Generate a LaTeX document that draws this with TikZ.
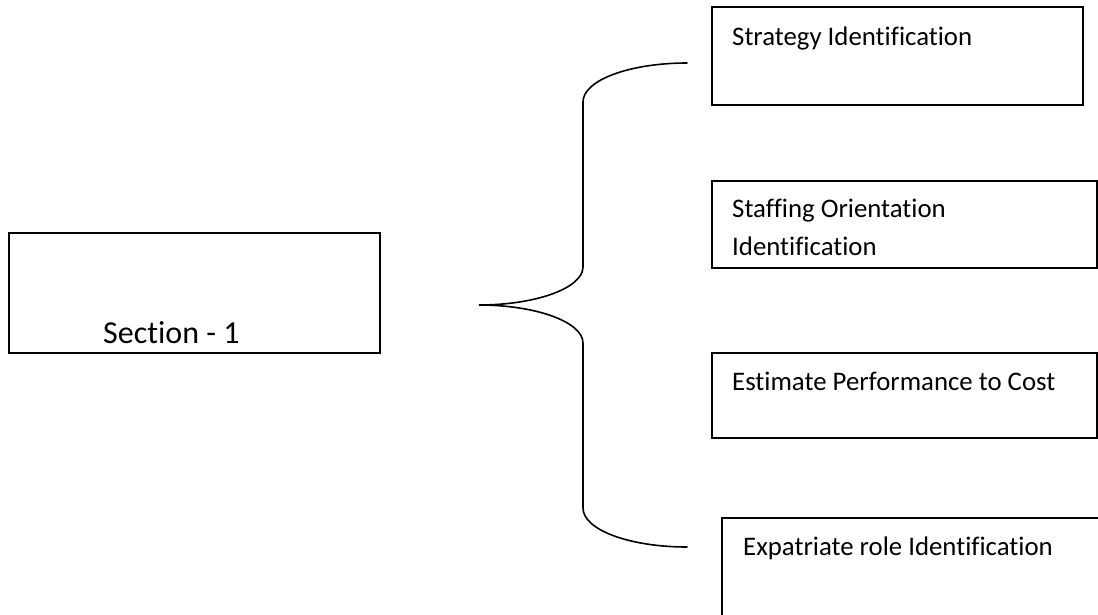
\documentclass[tikz,border=0pt]{standalone}
\usepackage{fontspec}
\setmainfont{Carlito}[Ligatures = NoCommon]
\begin{document}
\begin{tikzpicture}[
	x = 1pt, y = -1pt,
	box/.style = {draw, line width = 1.5pt, rectangle, inner sep = 0pt},
	txt/.style = {anchor = base west, inner sep = 0pt, align = left,
		font = \fontsize{26.8}{38}\selectfont},
	brace/.style = {line width = 1.6pt, line cap = round}]

	\useasboundingbox (0,0) rectangle (1098,614);
	\clip (0,0) rectangle (1098,614);

	% left box
	\node[box, minimum width = 371, minimum height = 120] (sec) at (194.5,293) {};
	\node[txt, font = \fontsize{32}{38}\selectfont] (secText) at (103,343) {Section - 1};

	% right boxes
	\node[box, minimum width = 371, minimum height = 98] (strat) at (897.5,56) {};
	\node[txt] (stratText) at (732,45) {Strategy Identification};

	\node[box, minimum width = 385, minimum height = 87] (staff) at (904.5,224.5) {};
	\node[txt] (staffText) at (732,255) {Staffing Orientation\\Identification};

	\node[box, minimum width = 385, minimum height = 85] (est) at (904.5,395.5) {};
	\node[txt] (estText) at (732,390) {Estimate Performance to Cost};

	\node[box, minimum width = 400, minimum height = 150] (expat) at (922,593) {};
	\node[txt] (expatText) at (743,555) {Expatriate role Identification};

	% brace
	\coordinate (tip) at (479,305);
	\coordinate (braceTop) at (687,63);
	\coordinate (braceBot) at (687,547);
	\draw[brace] (braceTop) .. controls (630,63) and (583,80) .. (583,102)
		-- (583,267) .. controls (583,288) and (536,305) .. (tip)
		.. controls (536,305) and (583,322) .. (583,343)
		-- (583,508) .. controls (583,530) and (630,547) .. (braceBot);

\end{tikzpicture}
\end{document}
